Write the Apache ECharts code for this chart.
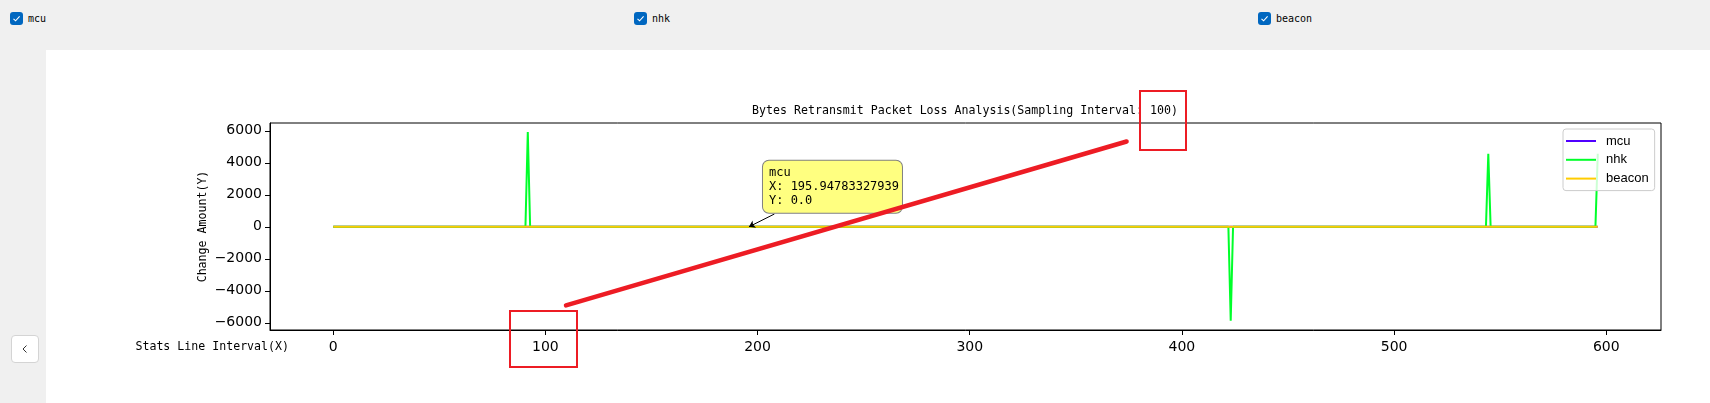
<!DOCTYPE html>
<html>
<head>
<meta charset="utf-8">
<script src="https://cdn.jsdelivr.net/npm/echarts@6/dist/echarts.min.js"></script>
<style>
  html, body { margin: 0; padding: 0; width: 1710px; height: 403px; overflow: hidden; background: #f0f0f0; }
  #panel { position: absolute; left: 46px; top: 50px; right: 0; bottom: 0; background: #fff; }
  .cb { position: absolute; top: 12px; width: 13px; height: 13px; background: #0067c0; border-radius: 3px; }
  .cb svg { position: absolute; left: 0; top: 0; }
  .cbl { position: absolute; top: 11px; font-family: "DejaVu Sans Mono", monospace; font-size: 10px; line-height: 15px; color: #000; }
  #back { position: absolute; left: 11px; top: 335px; width: 26px; height: 26px; background: #fff; border: 1px solid #d4d4d4; border-radius: 4px; }
  #chart { position: absolute; left: 0; top: 0; width: 1710px; height: 403px; }
</style>
</head>
<body>
<div id="panel"></div>
<div class="cb" style="left:10px"><svg width="13" height="13"><polyline points="3.5,6.8 5.6,8.8 9.6,4.4" fill="none" stroke="#fff" stroke-width="1.1"/></svg></div>
<div class="cbl" style="left:28px">mcu</div>
<div class="cb" style="left:634px"><svg width="13" height="13"><polyline points="3.5,6.8 5.6,8.8 9.6,4.4" fill="none" stroke="#fff" stroke-width="1.1"/></svg></div>
<div class="cbl" style="left:652px">nhk</div>
<div class="cb" style="left:1258px"><svg width="13" height="13"><polyline points="3.5,6.8 5.6,8.8 9.6,4.4" fill="none" stroke="#fff" stroke-width="1.1"/></svg></div>
<div class="cbl" style="left:1276px">beacon</div>
<div id="back"><svg width="26" height="26"><polyline points="14.5,9.5 11,13 14.5,16.5" fill="none" stroke="#333" stroke-width="1"/></svg></div>
<div id="chart"></div>
<script>
// ---- data ----
const seriesNames = ['mcu', 'nhk', 'beacon'];
const mcuX = [0, 91.7, 195.94783327939, 423.0, 544.4, 596.0];
const mcuY = [0, 0, 0, 0, 0, 0];
const nhkX = [0, 90.6, 91.7, 92.8, 421.9, 423.0, 424.1, 543.3, 544.4, 545.5, 594.9, 596.0];
const nhkY = [0, 0, 5930, 0, 0, -5870, 0, 0, 4560, 0, 0, 4560];
const beaconX = [0, 91.7, 423.0, 544.4, 596.0];
const beaconY = [0, 0, 0, 0, 0];
const xTicks = [0, 100, 200, 300, 400, 500, 600];
const yTicks = [-6000, -4000, -2000, 0, 2000, 4000, 6000];
const titleText = 'Bytes Retransmit Packet Loss Analysis(Sampling Interval: 100)';
const xName = 'Stats Line Interval(X)';
const yName = 'Change Amount(Y)';
const noteSeries = 'mcu';
const noteX = 195.94783327939;
const noteY = 0.0;

const colors = { mcu: '#5000ff', nhk: '#00ff2a', beacon: '#ffcc00' };
const zip = (xs, ys) => xs.map((x, i) => [x, ys[i]]);
const simhei = 'DejaVu Sans Mono';
const red = '#ed1c24';

const chart = echarts.init(document.getElementById('chart'), null, { renderer: 'canvas' });
const lineSeries = (name, xs, ys) => ({
  name, type: 'line', data: zip(xs, ys), showSymbol: false, symbol: 'none',
  lineStyle: { width: 2, color: colors[name] }, itemStyle: { color: colors[name] },
  emphasis: { disabled: true }, animation: false
});
const sMcu = lineSeries('mcu', mcuX, mcuY);
sMcu.markPoint = {
  symbol: 'circle', symbolSize: 0, silent: true, animation: false,
  data: [{ coord: [noteX, noteY] }],
  label: {
    show: true, position: [14, -66], align: 'left', verticalAlign: 'top',
    formatter: noteSeries + '\nX: ' + noteX + '\nY: ' + noteY.toFixed(1),
    fontFamily: simhei, fontSize: 12, lineHeight: 14, color: '#000',
    backgroundColor: '#ffff80', borderColor: '#808080', borderWidth: 1, borderRadius: 6,
    padding: [5, 6, 5, 6], width: 127
  }
};
sMcu.markLine = {
  silent: true, animation: false, symbol: ['none', 'arrow'], symbolSize: 6,
  label: { show: false },
  lineStyle: { color: '#000', width: 1, type: 'solid' },
  data: [[{ coord: [noteX + 12, 800] }, { coord: [noteX, noteY] }]]
};

const option = {
  backgroundColor: 'transparent',
  animation: false,
  title: {
    text: titleText, left: 965, top: 105, textAlign: 'center', padding: 0,
    textStyle: { fontFamily: simhei, fontSize: 11.6, fontWeight: 'normal', color: '#000' }
  },
  legend: {
    data: seriesNames, orient: 'vertical', left: 1563, top: 129,
    icon: 'rect', itemWidth: 30, itemHeight: 2, itemGap: 4.8,
    padding: [5, 6, 5, 3],
    backgroundColor: 'rgba(255,255,255,0.8)', borderColor: '#cccccc', borderWidth: 1, borderRadius: 3,
    textStyle: { fontFamily: 'Liberation Sans', fontSize: 13, color: '#000', lineHeight: 14, padding: [0, 0, 0, 5] },
    selectedMode: false
  },
  grid: { left: 270, right: 49, top: 123, bottom: 73, show: true, borderColor: '#000', borderWidth: 1, containLabel: false, outerBoundsMode: 'none' },
  xAxis: {
    type: 'value', min: -29.8, max: 625.8,
    name: xName, nameLocation: 'start', nameGap: -19, nameMoveOverlap: false,
    nameTextStyle: { fontFamily: simhei, fontSize: 11.6, color: '#000', verticalAlign: 'top', padding: [11, 0, 0, 0] },
    axisLine: { show: true, onZero: false, lineStyle: { color: '#000', width: 1 } },
    axisTick: { show: true, customValues: xTicks, length: 5, lineStyle: { color: '#000' } },
    axisLabel: { customValues: xTicks, color: '#000', fontFamily: 'DejaVu Sans', fontSize: 14, margin: 10 },
    splitLine: { show: false }
  },
  yAxis: {
    type: 'value', min: -6450, max: 6487,
    name: yName, nameLocation: 'middle', nameRotate: 90, nameGap: 61, nameMoveOverlap: false,
    nameTextStyle: { fontFamily: simhei, fontSize: 11.6, color: '#000' },
    axisLine: { show: true, onZero: false, lineStyle: { color: '#000', width: 1 } },
    axisTick: { show: true, customValues: yTicks, length: 5, lineStyle: { color: '#000' } },
    axisLabel: { customValues: yTicks, color: '#000', fontFamily: 'DejaVu Sans', fontSize: 14, margin: 8,
      formatter: v => String(v).replace('-', '\u2212') },
    splitLine: { show: false }
  },
  series: [sMcu, lineSeries('nhk', nhkX, nhkY), lineSeries('beacon', beaconX, beaconY)],
  graphic: [
    { type: 'line', z: 100, silent: true, shape: { x1: 566, y1: 305.4, x2: 1126.6, y2: 141.5 }, style: { stroke: red, lineWidth: 4.5, lineCap: 'round' } },
    { type: 'rect', z: 100, silent: true, shape: { x: 1140, y: 91, width: 46, height: 59 }, style: { fill: 'transparent', stroke: red, lineWidth: 2 } },
    { type: 'rect', z: 100, silent: true, shape: { x: 510, y: 311, width: 67, height: 56 }, style: { fill: 'transparent', stroke: red, lineWidth: 2 } }
  ]
};
chart.setOption(option);
</script>
</body>
</html>
